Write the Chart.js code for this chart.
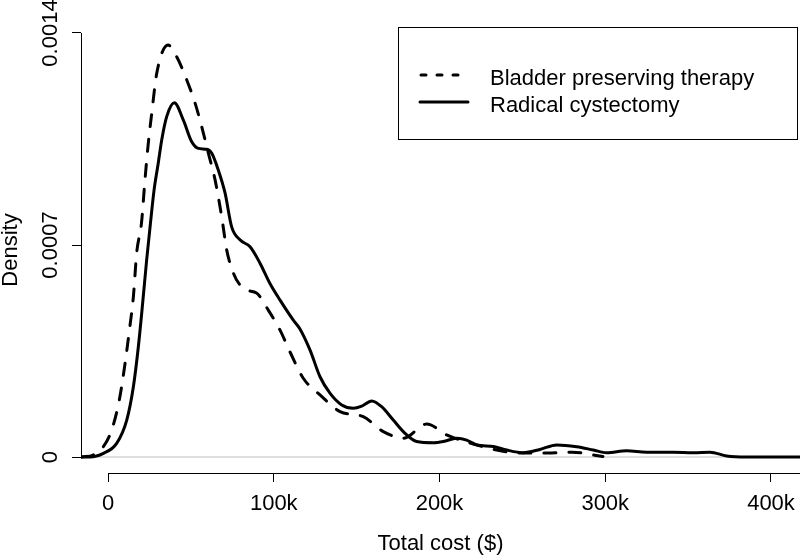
<!DOCTYPE html>
<html>
<head>
<meta charset="utf-8">
<script src="https://cdn.jsdelivr.net/npm/chart.js@4.4.1/dist/chart.umd.min.js"></script>
<style>
  html, body { margin: 0; padding: 0; background: #fff; }
  #wrap { width: 800px; height: 556px; position: relative; }
</style>
</head>
<body>
<div id="wrap"><canvas id="density-chart"></canvas></div>
<script>
// Bladder preserving therapy (dashed)
const bptCost = [-15900, -8900, -2800, 2200, 6800, 10300, 12900, 15300, 17300, 20200, 22300, 24100, 26400, 29400, 36200,
    41400, 47500, 52500, 56500, 60500, 64600, 68600, 71600, 75600, 79600, 83700, 89700, 96700, 103800, 109800,
    117800, 127900, 140000, 154000, 166100, 178200, 192300, 204300, 220400, 234500, 249800, 264900, 279900, 295600, 298600];
const bptDensity = [0, 0.0000066, 0.000034, 0.000089, 0.000188, 0.00031, 0.000419, 0.000529, 0.000674, 0.000773, 0.000915, 0.001025, 0.001136, 0.001267, 0.00136,
    0.001322, 0.001245, 0.001169, 0.001091, 0.001004, 0.000915, 0.000793, 0.000684, 0.000608, 0.000568, 0.000551, 0.000541, 0.000485, 0.000419, 0.000347,
    0.00026, 0.000205, 0.00015, 0.000133, 0.000084, 0.000062, 0.000109, 0.000073, 0.000043, 0.000023, 0.000013, 0.000013, 0.000016, 0.0000043, 0.0000017];

// Radical cystectomy (solid)
const rcCost = [-15900, -10900, -2800, 5200, 11300, 15300, 18300, 20900, 23300, 25600, 27800, 30300, 32400, 35400, 40000,
    45400, 50500, 54500, 59500, 62600, 66500, 70600, 74600, 79600, 85700, 91700, 97700, 103800, 111800, 115800,
    121900, 127900, 134000, 141000, 148000, 153100, 159100, 165100, 172100, 179200, 186200, 196300, 202300, 210400, 216400,
    222400, 232500, 240500, 250600, 260600, 270700, 282800, 292800, 300900, 312900, 325000, 341100, 353100, 363200, 373300, 385300, 417500];
const rcDensity = [0, 0, 0.000012, 0.000045, 0.000122, 0.000232, 0.000364, 0.000508, 0.00065, 0.000772, 0.000882, 0.00097, 0.001047, 0.001124, 0.00117,
    0.001113, 0.001041, 0.001019, 0.001016, 0.001003, 0.000948, 0.000872, 0.00076, 0.000717, 0.000694, 0.00064, 0.000573, 0.000518, 0.000452, 0.000423,
    0.000353, 0.000265, 0.00021, 0.000172, 0.000161, 0.000168, 0.000185, 0.000166, 0.000122, 0.000078, 0.000051, 0.000047, 0.000051, 0.000062, 0.000056,
    0.00004, 0.000035, 0.000023, 0.000014, 0.000025, 0.00004, 0.000034, 0.000023, 0.000014, 0.000021, 0.000016, 0.000016, 0.000014, 0.000016, 0.0000033, 0, 0];

const seriesNames = ['Bladder preserving therapy', 'Radical cystectomy'];
const xTicks = [0, 100000, 200000, 300000, 400000];
const xTickLabels = ['0', '100k', '200k', '300k', '400k'];
const yTicks = [0, 0.0007, 0.0014];
const yTickLabels = ['0', '0.0007', '0.0014'];
const xTitle = 'Total cost ($)';
const yTitle = 'Density';

const xMin = -16300, xMax = 417500;
const yMin = -0.0000528, yMax = 0.0014198;

const FONT = '22px "Liberation Sans", Arial, sans-serif';

function toPoints(xs, ys) {
    return xs.map((x, i) => ({x: x, y: ys[i]}));
}

// R-like axes, tick labels, titles and boxed legend
const rDecor = {
    id: 'rDecor',
    afterDraw(chart) {
        const {ctx, chartArea} = chart;
        const x = chart.scales.x, y = chart.scales.y;
        ctx.save();
        ctx.strokeStyle = '#000';
        ctx.lineWidth = 1;
        ctx.setLineDash([]);

        // axis lines
        const xl = Math.round(chartArea.bottom) + 0.5;
        ctx.beginPath();
        ctx.moveTo(x.getPixelForValue(xTicks[0]), xl);
        ctx.lineTo(chartArea.right, xl);
        ctx.stroke();
        const yl = Math.round(chartArea.left) + 0.5;
        ctx.beginPath();
        ctx.moveTo(yl, y.getPixelForValue(yTicks[0]));
        ctx.lineTo(yl, y.getPixelForValue(yTicks[yTicks.length - 1]));
        ctx.stroke();

        ctx.font = FONT;
        ctx.fillStyle = '#000';
        ctx.textBaseline = 'alphabetic';
        ctx.textAlign = 'center';

        // x tick labels
        xTicks.forEach((v, i) => {
            ctx.fillText(xTickLabels[i], x.getPixelForValue(v), 510);
        });
        // y tick labels, rotated like R
        yTicks.forEach((v, i) => {
            ctx.save();
            ctx.translate(57, y.getPixelForValue(v));
            ctx.rotate(-Math.PI / 2);
            ctx.fillText(yTickLabels[i], 0, 0);
            ctx.restore();
        });
        // titles
        ctx.fillText(xTitle, (chartArea.left + chartArea.right) / 2, 550);
        ctx.save();
        ctx.translate(16.5, (chartArea.top + chartArea.bottom) / 2);
        ctx.rotate(-Math.PI / 2);
        ctx.fillText(yTitle, 0, 0);
        ctx.restore();

        // legend
        ctx.strokeRect(398.5, 27.5, 399, 112);
        ctx.lineWidth = 3;
        ctx.lineCap = 'round';
        ctx.setLineDash([5, 11]);
        ctx.beginPath();
        ctx.moveTo(421, 75);
        ctx.lineTo(468, 75);
        ctx.stroke();
        ctx.setLineDash([]);
        ctx.beginPath();
        ctx.moveTo(420, 102);
        ctx.lineTo(468, 102);
        ctx.stroke();
        ctx.textAlign = 'left';
        ctx.fillText(seriesNames[0], 490, 85);
        ctx.fillText(seriesNames[1], 490, 112);
        ctx.restore();
    }
};

new Chart(document.getElementById('density-chart'), {
    type: 'line',
    data: {
        datasets: [
            {
                label: 'zero',
                data: [{x: xMin, y: 0}, {x: xMax, y: 0}],
                borderColor: '#bebebe',
                borderWidth: 1,
                order: 3
            },
            {
                label: seriesNames[0],
                data: toPoints(bptCost, bptDensity),
                borderColor: '#000',
                borderWidth: 3,
                borderDash: [12, 13],
                borderCapStyle: 'round',
                borderJoinStyle: 'round',
                cubicInterpolationMode: 'monotone',
                order: 1
            },
            {
                label: seriesNames[1],
                data: toPoints(rcCost, rcDensity),
                borderColor: '#000',
                borderWidth: 3,
                borderCapStyle: 'round',
                borderJoinStyle: 'round',
                cubicInterpolationMode: 'monotone',
                order: 2
            }
        ]
    },
    options: {
        responsive: true,
        maintainAspectRatio: false,
        animation: false,
        layout: {padding: {top: 27, right: 0, left: 0, bottom: 0}},
        elements: {point: {radius: 0}},
        plugins: {legend: {display: false}, tooltip: {enabled: false}},
        scales: {
            x: {
                type: 'linear',
                min: xMin,
                max: xMax,
                afterBuildTicks: (scale) => { scale.ticks = xTicks.map(v => ({value: v})); },
                afterFit: (scale) => { scale.height = 83; },
                ticks: {display: false},
                grid: {display: true, drawOnChartArea: false, drawTicks: true, tickLength: 9, color: '#000', lineWidth: 1},
                border: {display: false}
            },
            y: {
                type: 'linear',
                min: yMin,
                max: yMax,
                afterBuildTicks: (scale) => { scale.ticks = yTicks.map(v => ({value: v})); },
                afterFit: (scale) => { scale.width = 81; },
                ticks: {display: false},
                grid: {display: true, drawOnChartArea: false, drawTicks: true, tickLength: 9, color: '#000', lineWidth: 1},
                border: {display: false}
            }
        }
    },
    plugins: [rDecor]
});
</script>
</body>
</html>
